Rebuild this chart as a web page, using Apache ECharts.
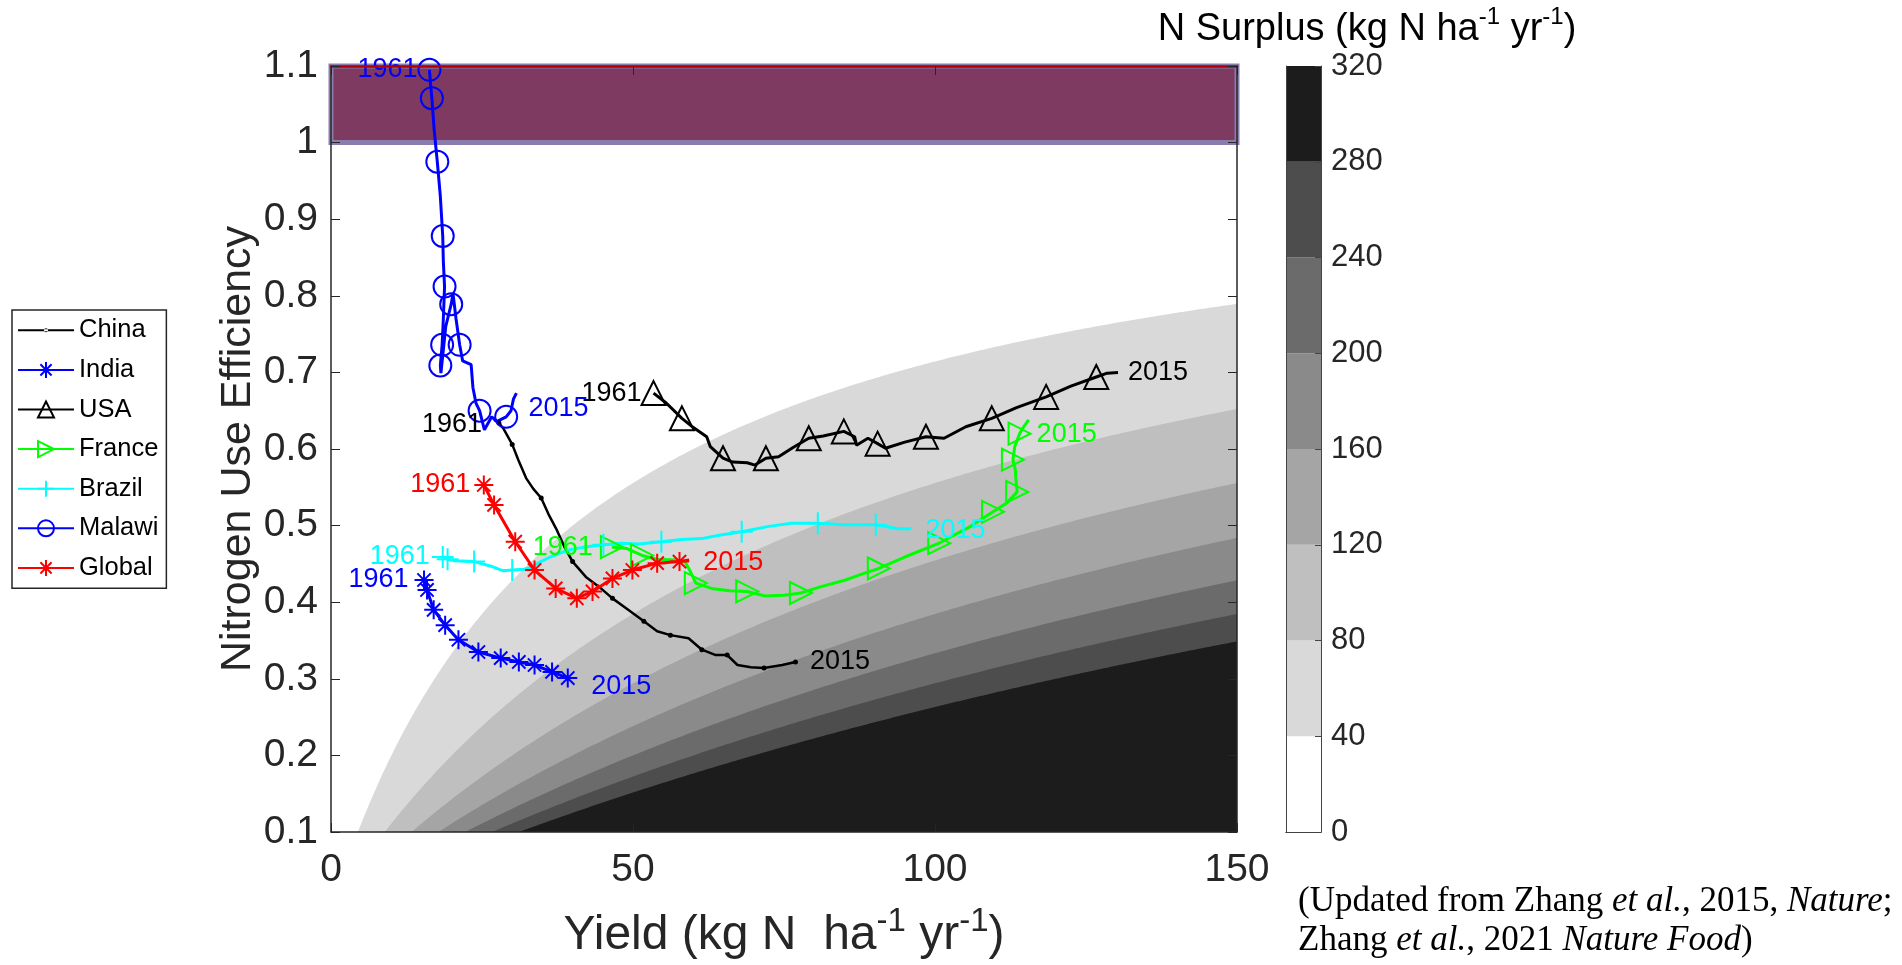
<!DOCTYPE html>
<html>
<head>
<meta charset="utf-8">
<script src="https://cdn.jsdelivr.net/npm/echarts@6/dist/echarts.min.js"></script>
<style>
html,body{margin:0;padding:0;background:#ffffff;}
#chart{width:1902px;height:965px;}
</style>
</head>
<body>
<div id="chart"></div>
<script>
// ---------------- data ----------------
const countries = ['China', 'India', 'USA', 'France', 'Brazil', 'Malawi', 'Global'];
const startYear = '1961';
const endYear = '2015';
const xTicks = [0, 50, 100, 150];
const yTickMin = 0.1, yTickMax = 1.1, yTickStep = 0.1;
const surplusTicks = [0, 40, 80, 120, 160, 200, 240, 280, 320];
const surplusColors = ['#ffffff', '#d9d9d9', '#bfbfbf', '#a5a5a5', '#8a8a8a', '#6b6b6b', '#4d4d4d', '#1c1c1c'];

// each point: [yield (kg N/ha/yr), NUE, marker shown (1) or not (0)]
const china = [[27.0,0.638,0],[27.8,0.634,1],[28.6,0.626,0],[30.0,0.606,1],[31.0,0.586,0],[32.3,0.562,0],[33.5,0.548,0],[34.8,0.536,1],[36.0,0.515,0],[37.4,0.494,0],[38.6,0.473,0],[40.0,0.453,1],[42.2,0.433,0],[44.4,0.420,0],[46.6,0.405,1],[49.2,0.390,0],[51.8,0.375,1],[54.0,0.362,0],[56.2,0.357,1],[59.2,0.353,0],[61.4,0.338,1],[63.7,0.331,0],[65.6,0.331,1],[67.3,0.318,0],[69.5,0.315,0],[71.7,0.314,1],[74.7,0.318,0],[76.9,0.322,1]];
const india = [[15.4,0.429,1],[15.9,0.416,1],[17.0,0.390,1],[18.9,0.370,1],[21.1,0.351,1],[24.4,0.335,1],[28.1,0.327,1],[31.1,0.322,1],[33.7,0.318,1],[36.6,0.309,1],[39.2,0.301,1]];
const usa = [[53.4,0.673,1],[55.5,0.660,0],[58.1,0.640,1],[60.0,0.628,0],[62.2,0.616,0],[62.8,0.603,0],[64.9,0.588,1],[66.5,0.583,0],[68.9,0.582,0],[70.2,0.579,0],[72.0,0.588,1],[74.1,0.590,0],[76.5,0.602,0],[79.1,0.614,1],[81.5,0.617,0],[84.9,0.623,1],[86.7,0.616,0],[87.0,0.605,0],[88.9,0.614,0],[90.5,0.607,1],[91.8,0.601,0],[95.0,0.609,0],[98.5,0.616,1],[101.5,0.614,0],[105.1,0.629,0],[109.4,0.640,1],[113.5,0.654,0],[118.4,0.668,1],[122.5,0.682,0],[126.7,0.694,1],[128.5,0.699,0],[130.3,0.700,0]];
const france = [[46.5,0.472,1],[49.0,0.470,0],[51.5,0.461,1],[54.0,0.456,0],[57.0,0.455,0],[58.6,0.453,0],[59.5,0.440,0],[60.4,0.425,1],[63.0,0.418,0],[66.0,0.415,0],[68.9,0.414,1],[71.9,0.408,0],[75.0,0.409,0],[77.8,0.412,1],[81.0,0.420,0],[85.2,0.429,0],[88.0,0.437,0],[90.7,0.444,1],[95.0,0.459,0],[100.7,0.477,1],[103.0,0.487,0],[105.9,0.499,0],[109.6,0.518,1],[111.8,0.529,0],[113.6,0.544,1],[113.4,0.560,0],[113.3,0.573,0],[112.9,0.586,1],[113.2,0.603,0],[114.0,0.620,1],[114.6,0.628,0],[115.5,0.638,0]];
const brazil = [[18.5,0.459,1],[19.3,0.456,1],[20.5,0.454,0],[23.7,0.453,1],[26.5,0.447,0],[28.5,0.441,0],[30.0,0.442,1],[32.0,0.443,0],[33.3,0.446,0],[34.5,0.452,0],[36.3,0.459,0],[39.2,0.468,0],[42.0,0.472,0],[45.1,0.475,1],[48.1,0.477,0],[51.0,0.476,0],[54.7,0.479,1],[58.0,0.482,0],[61.4,0.483,0],[64.0,0.487,0],[68.0,0.492,1],[72.5,0.499,0],[76.2,0.503,0],[80.6,0.503,1],[85.0,0.501,0],[90.2,0.501,1],[93.9,0.496,0],[96.1,0.496,0]];
const malawi = [[16.3,1.095,1],[16.5,1.075,0],[16.7,1.058,1],[17.1,1.015,0],[17.6,0.975,1],[18.1,0.930,0],[18.5,0.878,1],[18.6,0.845,0],[18.8,0.812,1],[18.6,0.770,0],[18.4,0.736,1],[18.1,0.709,1],[18.2,0.699,0],[19.0,0.760,0],[19.9,0.789,1],[20.2,0.803,0],[20.7,0.770,0],[21.3,0.736,1],[21.8,0.715,0],[23.2,0.710,0],[23.5,0.680,0],[24.0,0.660,0],[24.6,0.650,1],[25.4,0.625,0],[26.6,0.642,0],[27.5,0.636,0],[29.0,0.642,1],[29.8,0.650,0],[30.2,0.665,0],[30.7,0.673,0]];
const globalAvg = [[25.3,0.553,1],[27.0,0.527,1],[30.5,0.479,1],[33.7,0.442,1],[37.2,0.418,1],[40.7,0.405,1],[43.3,0.414,1],[46.6,0.431,1],[49.9,0.442,1],[54.0,0.451,1],[57.7,0.453,1],[59.3,0.455,0]];
const nueBand = [1.0, 1.1];

// ---------------- styling ----------------
const FONT = '"Liberation Sans", Arial, Helvetica, sans-serif';
const SERIF = '"Liberation Serif", "Times New Roman", serif';
const AX = '#262626';
const ASTERISK = 'path://M5,0L5,10M0,5L10,5M1.5,1.5L8.5,8.5M1.5,8.5L8.5,1.5';
const PLUS = 'path://M5,0L5,10M0,5L10,5';
const RTRI = 'path://M0,0L10,5L0,10Z';
// legend icon for China: a line with a small dot (two tiny corner marks keep the box full height)
const CHINA_ICON = 'path://M0,0L0.01,0L0,0.01Z M56,20L55.99,20L56,19.99Z M0,9L56,9L56,11L0,11Z M26,10a2,2 0 1,0 4,0a2,2 0 1,0 -4,0Z';

function lineSeries(name, pts, color, symbol, size, open, lw, lab) {
  const last = pts.length - 1;
  return {
    name: name, type: 'line', z: 3,
    xAxisIndex: 0, yAxisIndex: 0,
    symbol: symbol,
    symbolSize: function (v) { return v[2] ? size : 0; },
    lineStyle: { color: color, width: lw },
    itemStyle: open ? { color: 'rgba(0,0,0,0)', borderColor: color, borderWidth: 2 } : { color: color },
    emphasis: { disabled: true },
    animation: false,
    data: pts.map(function (p, i) {
      const item = { value: p };
      if (i === 0 || i === last) {
        const s = i === 0 ? lab.s : lab.e;
        item.label = {
          show: true, formatter: i === 0 ? startYear : endYear,
          position: i === 0 ? 'left' : 'right',
          distance: s[0], offset: [0, s[1]],
          color: color, fontSize: 27, fontFamily: FONT
        };
      }
      return item;
    })
  };
}

const series = [
  {
    name: 'surplus', type: 'custom', z: 1, silent: true, animation: false,
    xAxisIndex: 0, yAxisIndex: 0,
    data: surplusTicks.slice(1, 8).map(function (s, i) { return [s, i]; }),
    renderItem: function (params, api) {
      const S = api.value(0);
      const idx = api.value(1);
      const pts = [];
      // iso-line of N surplus S: surplus = yield/NUE - yield  ->  NUE = yield/(yield+S)
      for (let y = 0; y <= 150.0001; y += 0.5) {
        pts.push(api.coord([y, Math.max(y / (y + S), yTickMin)]));
      }
      pts.push(api.coord([150, yTickMin]));
      pts.push(api.coord([0, yTickMin]));
      return { type: 'polygon', shape: { points: pts }, style: { fill: surplusColors[idx + 1] } };
    },
    markArea: {
      silent: true,
      itemStyle: { color: '#7f3a62', borderColor: '#8a7cad', borderWidth: 5 },
      data: [[{ xAxis: xTicks[0], yAxis: nueBand[0] }, { xAxis: xTicks[3], yAxis: nueBand[1] }]]
    }
  },
  lineSeries('China', china, '#000000', 'circle', 5, false, 2.5, { s: [12, 5], e: [12, 0] }),
  lineSeries('India', india, '#0000ff', ASTERISK, 19, true, 3, { s: [5, 0], e: [13, 9] }),
  lineSeries('USA', usa, '#000000', 'triangle', 24, true, 3, { s: [-1, 0], e: [10, 0] }),
  lineSeries('France', france, '#00ff00', RTRI, 22, true, 3, { s: [7, 0], e: [8, 15] }),
  lineSeries('Brazil', brazil, '#00ffff', PLUS, 22, true, 3, { s: [1, 0], e: [14, 2] }),
  lineSeries('Malawi', malawi, '#0000ff', 'circle', 22, true, 3, { s: [0, 0], e: [12, 15] }),
  lineSeries('Global', globalAvg, '#ff0000', ASTERISK, 19, true, 3, { s: [3, 0], e: [14, 2] })
];

// colour bar: one stacked block per surplus class
for (let i = 0; i < surplusColors.length; i++) {
  series.push({
    type: 'bar', xAxisIndex: 2, yAxisIndex: 2, stack: 'cb', barWidth: '100%',
    silent: true, animation: false,
    itemStyle: { color: surplusColors[i] },
    data: [surplusTicks[i + 1] - surplusTicks[i]]
  });
}

const tickLbl = { fontSize: 39, color: AX, fontFamily: FONT };

const option = {
  backgroundColor: '#ffffff',
  animation: false,
  grid: [
    { left: 331, top: 66, width: 906, height: 766 },
    { left: 1286, top: 66, width: 35, height: 766 }
  ],
  xAxis: [
    {
      gridIndex: 0, type: 'value', min: xTicks[0], max: xTicks[3], interval: 50, position: 'bottom', z: 5,
      axisLine: { show: true, onZero: false, lineStyle: { color: AX, width: 1.5 } },
      axisTick: { show: true, inside: true, length: 9, lineStyle: { color: AX } },
      axisLabel: Object.assign({ margin: 19 }, tickLbl),
      splitLine: { show: false },
      name: '{a|Yield (kg N  ha}{s|-1}{a| yr}{s|-1}{a|)}',
      nameLocation: 'middle', nameGap: 73,
      nameTextStyle: {
        rich: {
          a: { fontSize: 48, color: AX, fontFamily: FONT, lineHeight: 55, verticalAlign: 'bottom' },
          s: { fontSize: 33, color: AX, fontFamily: FONT, lineHeight: 35, verticalAlign: 'top' }
        }
      }
    },
    {
      gridIndex: 0, type: 'value', min: xTicks[0], max: xTicks[3], interval: 50, position: 'top', z: 5,
      axisLine: { show: true, onZero: false, lineStyle: { color: '#b00000', width: 2.5 } },
      axisTick: { show: true, inside: true, length: 9, lineStyle: { color: AX } },
      axisLabel: { show: false }, splitLine: { show: false }
    },
    { gridIndex: 1, type: 'category', data: ['cb'], position: 'bottom', z: 5,
      axisLine: { show: true, lineStyle: { color: '#444', width: 1 } },
      axisTick: { show: false }, axisLabel: { show: false } },
    { gridIndex: 1, type: 'category', data: ['cb'], position: 'top', z: 5,
      axisLine: { show: true, lineStyle: { color: '#444', width: 1 } },
      axisTick: { show: false }, axisLabel: { show: false } }
  ],
  yAxis: [
    {
      gridIndex: 0, type: 'value', min: yTickMin, max: yTickMax, interval: yTickStep, position: 'left', z: 5,
      axisLine: { show: true, onZero: false, lineStyle: { color: AX, width: 1.5 } },
      axisTick: { show: true, inside: true, length: 9, lineStyle: { color: AX } },
      axisLabel: Object.assign({ margin: 13, formatter: function (v) { return String(Math.round(v * 10) / 10); } }, tickLbl),
      splitLine: { show: false },
      name: 'Nitrogen Use Efficiency', nameLocation: 'middle', nameGap: 70,
      nameTextStyle: { fontSize: 43, color: AX, fontFamily: FONT }
    },
    {
      gridIndex: 0, type: 'value', min: yTickMin, max: yTickMax, interval: yTickStep, position: 'right', z: 5,
      axisLine: { show: true, onZero: false, lineStyle: { color: AX, width: 1.5 } },
      axisTick: { show: true, inside: true, length: 9, lineStyle: { color: AX } },
      axisLabel: { show: false }, splitLine: { show: false }
    },
    {
      gridIndex: 1, type: 'value', min: surplusTicks[0], max: surplusTicks[8], interval: 40, position: 'right', z: 5,
      axisLine: { show: true, lineStyle: { color: '#444', width: 1 } },
      axisTick: { show: true, inside: true, length: 6, lineStyle: { color: '#444' } },
      axisLabel: { margin: 10, fontSize: 31, color: AX, fontFamily: FONT },
      splitLine: { show: false }
    },
    {
      gridIndex: 1, type: 'value', min: surplusTicks[0], max: surplusTicks[8], position: 'left', z: 5,
      axisLine: { show: true, lineStyle: { color: '#444', width: 1 } },
      axisTick: { show: false }, axisLabel: { show: false }, splitLine: { show: false }
    }
  ],
  legend: {
    data: countries.map(function (c) { return c === 'China' ? { name: c, icon: CHINA_ICON, itemStyle: { color: '#000' } } : { name: c }; }),
    orient: 'vertical', left: 12, top: 310,
    itemWidth: 56, itemHeight: 20, itemGap: 11,
    padding: [6, 8, 6, 5],
    borderColor: AX, borderWidth: 1.5,
    textStyle: { fontSize: 25.5, color: '#000', fontFamily: FONT, lineHeight: 28.6 }
  },
  graphic: [
    {
      type: 'text', x: 1367, y: 27, z: 10,
      style: {
        text: '{a|N Surplus (kg N ha}{s|-1}{a| yr}{s|-1}{a|)}',
        align: 'center', verticalAlign: 'middle',
        rich: {
          a: { fontSize: 38, fill: '#000', fontFamily: FONT, lineHeight: 44, verticalAlign: 'bottom' },
          s: { fontSize: 24, fill: '#000', fontFamily: FONT, lineHeight: 26, verticalAlign: 'top' }
        }
      }
    },
    {
      type: 'text', x: 1298, y: 921, z: 10,
      style: {
        text: '{n|(Updated from Zhang }{i|et al.}{n|, 2015, }{i|Nature}{n|;}\n{n|Zhang }{i|et al.}{n|, 2021 }{i|Nature Food}{n|)}',
        align: 'left', verticalAlign: 'middle',
        rich: {
          n: { fontSize: 35, fill: '#000', fontFamily: SERIF, lineHeight: 39 },
          i: { fontSize: 35, fill: '#000', fontFamily: SERIF, fontStyle: 'italic', lineHeight: 39 }
        }
      }
    }
  ],
  series: series
};

const chart = echarts.init(document.getElementById('chart'), null, { renderer: 'canvas' });
chart.setOption(option);
</script>
</body>
</html>
